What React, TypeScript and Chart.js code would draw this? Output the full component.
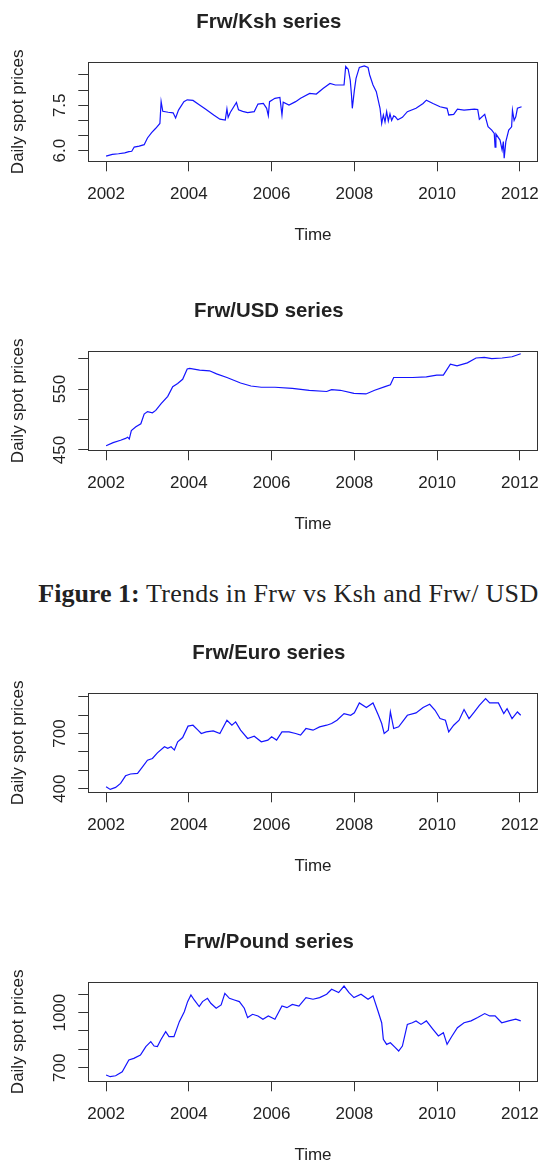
import React, { useEffect, useRef } from "react";
import { Chart, registerables } from "chart.js";

Chart.register(...registerables);

// ---------------- DATA ----------------
const kshYears = [
  2002.0, 2002.15, 2002.3, 2002.45, 2002.55, 2002.62, 2002.68, 2002.8, 2002.92, 2003.0,
  2003.1, 2003.2, 2003.3, 2003.33, 2003.37, 2003.5, 2003.62, 2003.68, 2003.75, 2003.88,
  2003.96, 2004.1, 2004.25, 2004.4, 2004.6, 2004.75, 2004.88, 2004.92, 2004.95, 2005.0,
  2005.15, 2005.2, 2005.3, 2005.42, 2005.58, 2005.67, 2005.8, 2005.88, 2005.92, 2005.95,
  2006.08, 2006.2, 2006.25, 2006.28, 2006.42, 2006.58, 2006.7, 2006.92, 2007.08, 2007.25,
  2007.41, 2007.54, 2007.66, 2007.75, 2007.79, 2007.85, 2007.9, 2007.93, 2007.95, 2008.0,
  2008.04, 2008.12, 2008.24, 2008.33, 2008.37, 2008.45, 2008.53, 2008.62, 2008.66, 2008.7,
  2008.74, 2008.78, 2008.82, 2008.86, 2008.9, 2008.95, 2008.99, 2009.05, 2009.16, 2009.28,
  2009.49, 2009.66, 2009.74, 2009.9, 2010.07, 2010.24, 2010.28, 2010.4, 2010.49, 2010.65,
  2010.9, 2010.98, 2011.02, 2011.15, 2011.23, 2011.32, 2011.38, 2011.4, 2011.42, 2011.52,
  2011.57, 2011.6, 2011.62, 2011.66, 2011.73, 2011.8, 2011.82, 2011.86, 2011.9, 2011.94,
  2012.04,
];
const kshValues = [
  5.82, 5.88, 5.9, 5.93, 5.97, 5.98, 6.12, 6.15, 6.2, 6.42,
  6.6, 6.74, 6.9, 7.62, 7.3, 7.27, 7.25, 7.08, 7.34, 7.62,
  7.68, 7.66, 7.52, 7.38, 7.18, 7.04, 7.01, 7.38, 7.1, 7.26,
  7.59, 7.35, 7.3, 7.26, 7.29, 7.54, 7.56, 7.4, 7.16, 7.62,
  7.73, 7.76, 7.18, 7.6, 7.51, 7.62, 7.73, 7.89, 7.87, 8.06,
  8.22, 8.17, 8.17, 8.17, 8.78, 8.69, 8.33, 7.84, 7.4, 8.0,
  8.39, 8.75, 8.8, 8.75, 8.5, 8.17, 7.95, 7.4, 6.9, 7.18,
  6.95, 7.29, 6.98, 7.22, 7.0, 7.15, 7.12, 7.02, 7.1, 7.29,
  7.4, 7.56, 7.67, 7.56, 7.45, 7.4, 7.18, 7.2, 7.37, 7.34,
  7.37, 7.36, 7.04, 7.2, 6.79, 6.68, 6.57, 6.12, 6.55, 6.35,
  6.02, 6.3, 5.75, 6.3, 6.68, 6.79, 7.34, 7.0, 7.12, 7.4,
  7.45,
];

const usdYears = [
  2002.0, 2002.17, 2002.35, 2002.47, 2002.52, 2002.56, 2002.61, 2002.72, 2002.84, 2002.92,
  2003.0, 2003.12, 2003.2, 2003.33, 2003.49, 2003.61, 2003.73, 2003.85, 2003.96, 2004.02,
  2004.26, 2004.5, 2004.67, 2004.92, 2005.25, 2005.5, 2005.75, 2006.08, 2006.5, 2006.91,
  2007.33, 2007.45, 2007.66, 2007.99, 2008.28, 2008.49, 2008.74, 2008.87, 2008.95, 2009.16,
  2009.41, 2009.74, 2009.99, 2010.15, 2010.32, 2010.48, 2010.73, 2010.94, 2011.14, 2011.32,
  2011.57, 2011.81, 2012.02,
];
const usdValues = [
  457, 462, 466, 469, 471, 468, 482, 488, 493, 509,
  513, 511, 515, 526, 538, 554, 559, 566, 583, 584,
  581, 580, 575, 569, 560, 555, 553, 553, 551, 548,
  546, 549, 548, 543, 542, 548, 554, 557, 569, 569,
  569, 570, 573, 573, 591, 588, 593, 601, 602, 600,
  601, 603, 608,
];

const euroYears = [
  2002.0, 2002.1, 2002.23, 2002.35, 2002.47, 2002.59, 2002.76, 2002.88, 2003.0, 2003.12,
  2003.24, 2003.41, 2003.49, 2003.57, 2003.65, 2003.73, 2003.85, 2003.98, 2004.1, 2004.22,
  2004.3, 2004.42, 2004.59, 2004.75, 2004.92, 2005.04, 2005.13, 2005.25, 2005.42, 2005.58,
  2005.75, 2005.91, 2006.0, 2006.12, 2006.25, 2006.42, 2006.58, 2006.7, 2006.83, 2007.0,
  2007.16, 2007.33, 2007.45, 2007.58, 2007.75, 2007.91, 2008.0, 2008.12, 2008.29, 2008.45,
  2008.58, 2008.66, 2008.72, 2008.82, 2008.87, 2008.95, 2009.07, 2009.28, 2009.49, 2009.66,
  2009.82, 2009.95, 2010.07, 2010.2, 2010.28, 2010.4, 2010.53, 2010.65, 2010.77, 2010.9,
  2011.02, 2011.17, 2011.27, 2011.48, 2011.61, 2011.69, 2011.81, 2011.94, 2012.02,
];
const euroValues = [
  411, 396, 407, 429, 470, 480, 483, 519, 555, 564,
  595, 628, 619, 628, 610, 655, 678, 740, 745, 718,
  700, 709, 714, 700, 772, 745, 763, 718, 673, 685,
  655, 664, 682, 664, 709, 709, 700, 691, 727, 718,
  736, 745, 754, 772, 808, 799, 812, 866, 841, 866,
  799, 754, 700, 718, 817, 727, 736, 799, 812, 841,
  859, 826, 781, 772, 709, 745, 772, 830, 781, 817,
  853, 890, 866, 866, 808, 835, 781, 817, 799,
];

const poundYears = [
  2002.0, 2002.1, 2002.23, 2002.39, 2002.55, 2002.67, 2002.83, 2002.96, 2003.08, 2003.16,
  2003.24, 2003.32, 2003.44, 2003.52, 2003.64, 2003.77, 2003.89, 2003.97, 2004.05, 2004.13,
  2004.25, 2004.33, 2004.45, 2004.53, 2004.66, 2004.78, 2004.87, 2004.98, 2005.1, 2005.22,
  2005.34, 2005.42, 2005.54, 2005.67, 2005.79, 2005.92, 2006.08, 2006.25, 2006.37, 2006.5,
  2006.66, 2006.83, 2007.0, 2007.16, 2007.33, 2007.45, 2007.62, 2007.75, 2007.87, 2007.99,
  2008.16, 2008.33, 2008.45, 2008.57, 2008.66, 2008.7, 2008.78, 2008.87, 2008.99, 2009.07,
  2009.16, 2009.28, 2009.4, 2009.49, 2009.61, 2009.74, 2009.9, 2010.03, 2010.15, 2010.24,
  2010.36, 2010.49, 2010.65, 2010.82, 2010.98, 2011.15, 2011.27, 2011.4, 2011.56, 2011.73,
  2011.9, 2012.02,
];
const poundValues = [
  660, 651, 656, 678, 742, 751, 769, 815, 842, 818,
  815, 851, 896, 869, 869, 951, 1005, 1060, 1096, 1069,
  1033, 1060, 1078, 1051, 1024, 1042, 1105, 1078, 1069, 1060,
  1024, 973, 991, 982, 964, 982, 964, 1036, 1027, 1045,
  1036, 1082, 1073, 1082, 1100, 1127, 1109, 1145, 1109, 1082,
  1100, 1073, 1091, 1009, 945, 855, 827, 836, 809, 791,
  818, 936, 945, 955, 936, 955, 909, 873, 891, 827,
  873, 918, 945, 955, 973, 995, 982, 982, 945, 955,
  964, 955,
];

// axis ranges and tick labels (R-style: labels only where R drew them)
const yearRange = [2001.57, 2012.43];
const yearStep = 2;
const kshRange = [5.65, 8.92];
const usdRange = [449.5, 612];
const euroRange = [380.4, 918.5];
const poundRange = [625.9, 1165.4];
const kshTickLabels = ["6.0", "7.5"];
const usdTickLabels = ["450", "550"];
const euroTickLabels = ["400", "700"];
const poundTickLabels = ["700", "1000"];

const titles = ["Frw/Ksh series", "Frw/USD series", "Frw/Euro series", "Frw/Pound series"];
const xTitle = "Time";
const yTitle = "Daily spot prices";

// ---------------- STYLE ----------------
const FAMILY = "'Liberation Sans', Arial, Helvetica, sans-serif";
const TEXT = "#222";
const INK = "#333";
const LINE = "rgb(20,20,255)";
const W = 539;
const H = 250;

const boxPlugin = {
  id: "rbox",
  afterDatasetsDraw(chart: any) {
    const { ctx, chartArea } = chart;
    const l = Math.round(chartArea.left) + 0.5;
    const t = Math.round(chartArea.top) + 0.5;
    const r = Math.round(chartArea.right) - 0.5;
    const b = Math.round(chartArea.bottom) + 0.5;
    ctx.save();
    ctx.strokeStyle = INK;
    ctx.lineWidth = 1;
    ctx.strokeRect(l, t, r - l, b - t);
    ctx.restore();
  },
};

type PanelProps = {
  top: number;
  title: string;
  xs: number[];
  ys: number[];
  range: number[];
  step: number;
  labels: string[];
  decimals: number;
};

function Panel({ top, title, xs, ys, range, step, labels, decimals }: PanelProps) {
  const ref = useRef<HTMLCanvasElement>(null);
  useEffect(() => {
    const canvas = ref.current!;
    const c2 = canvas.getContext("2d")!;
    c2.font = `17px ${FAMILY}`;
    const widest = Math.max(...labels.map((l) => c2.measureText(l).width));
    const font = { family: FAMILY, size: 17 };
    const chart = new Chart(canvas, {
      type: "line",
      data: {
        datasets: [
          {
            data: xs.map((x, i) => ({ x, y: ys[i] })),
            borderColor: LINE,
            borderWidth: 1.2,
            pointRadius: 0,
            tension: 0,
            fill: false,
          },
        ],
      },
      options: {
        responsive: false,
        animation: false,
        events: [],
        layout: { padding: { left: 0, right: 1.3, top: 0, bottom: 0 } },
        plugins: {
          legend: { display: false },
          tooltip: { enabled: false },
          title: {
            display: true,
            text: title,
            color: TEXT,
            font: { family: FAMILY, size: 20.4, weight: "bold" },
            padding: { top: 10.6, bottom: 27.2 },
          },
        },
        scales: {
          x: {
            type: "linear",
            min: yearRange[0],
            max: yearRange[1],
            border: { display: false },
            grid: { drawOnChartArea: false, drawTicks: true, tickLength: 10, color: INK, lineWidth: 1 },
            ticks: {
              stepSize: yearStep,
              includeBounds: false,
              autoSkip: false,
              maxRotation: 0,
              minRotation: 0,
              padding: 12.8,
              color: TEXT,
              font,
              callback: (v: any) => String(v),
            },
            title: { display: true, text: xTitle, color: TEXT, font, padding: { top: 0, bottom: 4.8 } },
            afterFit: (s: any) => {
              s.height = 88.7;
              s.paddingLeft = 0;
              s.paddingRight = 0;
            },
          },
          y: {
            type: "linear",
            min: range[0],
            max: range[1],
            border: { display: false },
            grid: { drawOnChartArea: false, drawTicks: true, tickLength: 10, color: INK, lineWidth: 1 },
            ticks: {
              stepSize: step,
              includeBounds: false,
              autoSkip: false,
              minRotation: 90,
              maxRotation: 90,
              crossAlign: "center",
              padding: 18.3 - widest / 2,
              color: TEXT,
              font,
              callback: (v: any) => {
                const s = Number(v).toFixed(decimals);
                return labels.includes(s) ? s : "";
              },
            },
            title: { display: true, text: yTitle, color: TEXT, font, padding: { top: 8.1, bottom: 0 } },
            afterFit: (s: any) => {
              s.width = 88.3;
              s.paddingTop = 0;
              s.paddingBottom = 0;
            },
          },
        },
      } as any,
      plugins: [boxPlugin],
    });
    return () => chart.destroy();
  }, []);
  return (
    <canvas
      ref={ref}
      width={W}
      height={H}
      style={{ position: "absolute", left: 0, top, width: W, height: H }}
    />
  );
}

export default function App() {
  return (
    <div
      style={{
        position: "absolute",
        left: 0,
        top: 0,
        width: W,
        height: 1162,
        overflow: "hidden",
        background: "#fff",
      }}
    >
      <Panel top={0} title={titles[0]} xs={kshYears} ys={kshValues} range={kshRange} step={0.5} labels={kshTickLabels} decimals={1} />
      <Panel top={289} title={titles[1]} xs={usdYears} ys={usdValues} range={usdRange} step={50} labels={usdTickLabels} decimals={0} />
      <div
        style={{
          position: "absolute",
          left: 38.3,
          top: 581,
          fontFamily: "'Liberation Serif', 'Times New Roman', serif",
          fontSize: 26,
          lineHeight: "26px",
          color: TEXT,
          whiteSpace: "nowrap",
        }}
      >
        <b>Figure 1:</b>
        <span style={{ letterSpacing: "0.3px" }}> Trends in Frw vs Ksh and Frw/ USD</span>
      </div>
      <Panel top={631} title={titles[2]} xs={euroYears} ys={euroValues} range={euroRange} step={100} labels={euroTickLabels} decimals={0} />
      <Panel top={920} title={titles[3]} xs={poundYears} ys={poundValues} range={poundRange} step={100} labels={poundTickLabels} decimals={0} />
    </div>
  );
}
